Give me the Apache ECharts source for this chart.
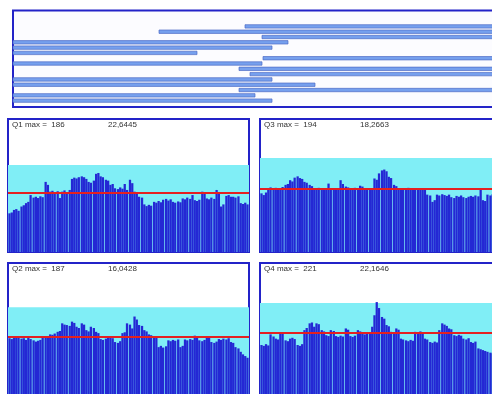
<!DOCTYPE html>
<html>
<head>
<meta charset="utf-8">
<script src="https://cdn.jsdelivr.net/npm/echarts@6/dist/echarts.min.js"></script>
<style>
  html, body { margin: 0; padding: 0; background: #ffffff; }
  #chart { width: 492px; height: 394px; }
</style>
</head>
<body>
<div id="chart"></div>
<script>
// Timeline rows: start / end of each interval (axis units 0..100)
const rowStart = [46.4, 29.2, 49.8, 0, 0, 0, 50, 0, 45.2, 47.4, 0, 0, 45.2, 0, 0];
const rowEnd   = [100, 100, 100, 55, 51.8, 36.8, 100, 49.8, 100, 100, 51.8, 60.4, 100, 48.4, 51.8];

// Quarterly series (100 samples each)
const q1 = [91, 93, 99, 101, 97, 107, 110, 115, 118, 134,
  128, 130, 127, 131, 129, 165, 158, 142, 144, 140,
  143, 127, 142, 145, 141, 146, 172, 175, 173, 176,
  178, 176, 172, 165, 163, 168, 184, 186, 178, 176,
  170, 168, 158, 160, 150, 148, 152, 149, 160, 146,
  170, 162, 142, 140, 130, 128, 112, 108, 111, 109,
  118, 116, 120, 117, 123, 125, 121, 124, 118, 116,
  119, 117, 126, 124, 128, 125, 134, 122, 120, 123,
  142, 138, 126, 124, 128, 125, 146, 140, 107, 112,
  132, 134, 130, 130, 128, 131, 115, 113, 116, 112];
const q2 = [136, 134, 140, 141, 137, 135, 136, 132, 137, 134,
  131, 128, 130, 132, 140, 139, 141, 145, 144, 147,
  151, 153, 171, 168, 167, 165, 175, 172, 163, 160,
  171, 168, 155, 152, 163, 160, 151, 148, 134, 132,
  135, 137, 139, 136, 127, 125, 129, 148, 150, 171,
  168, 159, 187, 180, 167, 165, 155, 152, 145, 143,
  137, 139, 115, 118, 114, 117, 131, 129, 132, 130,
  133, 115, 118, 133, 131, 134, 132, 142, 140, 131,
  129, 132, 137, 139, 127, 125, 128, 134, 132, 135,
  133, 136, 127, 125, 115, 112, 104, 98, 94, 90];
const q3 = [138, 134, 140, 150, 152, 149, 151, 148, 150, 153,
  158, 160, 169, 166, 175, 178, 174, 172, 165, 163,
  158, 155, 150, 148, 151, 147, 150, 149, 161, 148,
  146, 149, 147, 169, 160, 154, 152, 150, 148, 151,
  149, 156, 154, 148, 146, 149, 147, 173, 170, 185,
  192, 194, 190, 177, 174, 158, 155, 148, 150, 147,
  149, 151, 146, 148, 150, 147, 149, 148, 146, 135,
  133, 118, 122, 135, 133, 136, 134, 132, 135, 129,
  127, 132, 130, 133, 129, 127, 130, 132, 130, 133,
  131, 146, 122, 120, 135, 133, 136, 134, 132, 135];
const q4 = [120, 118, 122, 119, 145, 140, 135, 133, 148, 146,
  131, 129, 135, 137, 134, 120, 118, 122, 155, 160,
  171, 173, 163, 171, 169, 155, 152, 143, 141, 155,
  153, 141, 139, 142, 140, 159, 156, 141, 139, 142,
  155, 152, 147, 145, 148, 146, 163, 190, 221, 207,
  186, 182, 167, 164, 151, 149, 159, 156, 135, 133,
  131, 129, 132, 130, 151, 149, 152, 150, 135, 133,
  127, 125, 128, 126, 155, 171, 168, 165, 159, 157,
  143, 141, 144, 142, 135, 133, 136, 127, 125, 128,
  112, 110, 108, 106, 104, 102, 100, 98, 96, 95];

const panelNames = ['Q1', 'Q3', 'Q2', 'Q4'];
const panelValues = [q1, q3, q2, q4];
const panelMax = [186, 194, 187, 221];
const panelStat = ['22,6445', '18,2663', '16,0428', '22,1646'];
const panelMean = [139, 150, 140, 148];
const panelBand = [205, 221, 209, 219];

const SAMPLES_PER_GROUP = 5;
const GROUPS = 20;

const chart = echarts.init(document.getElementById('chart'), null, { renderer: 'canvas' });

const panelBoxes = [
  { left: 8, top: 119 },
  { left: 260, top: 119 },
  { left: 8, top: 263 },
  { left: 260, top: 263 }
];
const PANEL_W = 241, PANEL_H = 133;
const BORDER = '#2323c8';
const BAR = '#2428d4';

const grids = [{ left: 13, top: 10.5, width: 500, height: 96.5, show: true,
  outerBoundsMode: 'none', containLabel: false,
  borderColor: BORDER, borderWidth: 2, backgroundColor: '#fcfcff' }];
const xAxes = [{ gridIndex: 0, type: 'value', min: 0, max: 100, show: false }];
const yAxes = [{ gridIndex: 0, type: 'value', min: -3, max: 15.2, inverse: true, show: false }];
const series = [{
  type: 'custom',
  xAxisIndex: 0, yAxisIndex: 0,
  data: rowStart.map((s, i) => [i, s, rowEnd[i]]),
  encode: { x: [1, 2], y: 0 },
  renderItem: function (params, api) {
    const row = api.value(0);
    const a = api.coord([api.value(1), row]);
    const b = api.coord([api.value(2), row]);
    const h = 3.4;
    return {
      type: 'rect',
      shape: { x: a[0], y: a[1] - h / 2, width: b[0] - a[0], height: h },
      style: { fill: '#76a0ee', stroke: '#4f6cc6', lineWidth: 0.7 }
    };
  }
}];
const titles = [];
const groupLabels = Array.from({ length: GROUPS }, (_, i) => String(i + 1));

panelValues.forEach((vals, p) => {
  const g = p + 1;
  grids.push({ left: panelBoxes[p].left, top: panelBoxes[p].top, width: PANEL_W, height: PANEL_H,
    outerBoundsMode: 'none', containLabel: false,
    show: true, borderColor: BORDER, borderWidth: 2, backgroundColor: '#ffffff' });
  xAxes.push({ gridIndex: g, type: 'category', data: groupLabels, show: false });
  yAxes.push({ gridIndex: g, type: 'value', min: 0, max: 313, show: false });
  for (let k = 0; k < SAMPLES_PER_GROUP; k++) {
    const s = {
      type: 'bar',
      xAxisIndex: g, yAxisIndex: g,
      data: vals.filter((v, i) => i % SAMPLES_PER_GROUP === k),
      barGap: '0%',
      barCategoryGap: '6%',
      itemStyle: { color: BAR },
      silent: true
    };
    if (k === 0) {
      s.markArea = {
        silent: true,
        itemStyle: { color: '#80eef6' },
        data: [[{ yAxis: 0 }, { yAxis: panelBand[p] }]]
      };
      s.markLine = {
        silent: true,
        symbol: 'none',
        label: { show: false },
        lineStyle: { color: '#e42020', width: 2, type: 'solid' },
        data: [{ yAxis: panelMean[p] }]
      };
    }
    series.push(s);
  }
  const ts = { fontSize: 8, fontWeight: 'normal', color: '#333', fontFamily: 'Liberation Sans' };
  titles.push({ text: panelNames[p] + ' max =  ' + panelMax[p], left: panelBoxes[p].left + 4,
    top: panelBoxes[p].top + 2, padding: 0, textStyle: ts });
  titles.push({ text: panelStat[p], left: panelBoxes[p].left + 100,
    top: panelBoxes[p].top + 2, padding: 0, textStyle: ts });
});

chart.setOption({
  animation: false,
  backgroundColor: '#ffffff',
  title: titles,
  grid: grids,
  xAxis: xAxes,
  yAxis: yAxes,
  series: series
});
</script>
</body>
</html>
